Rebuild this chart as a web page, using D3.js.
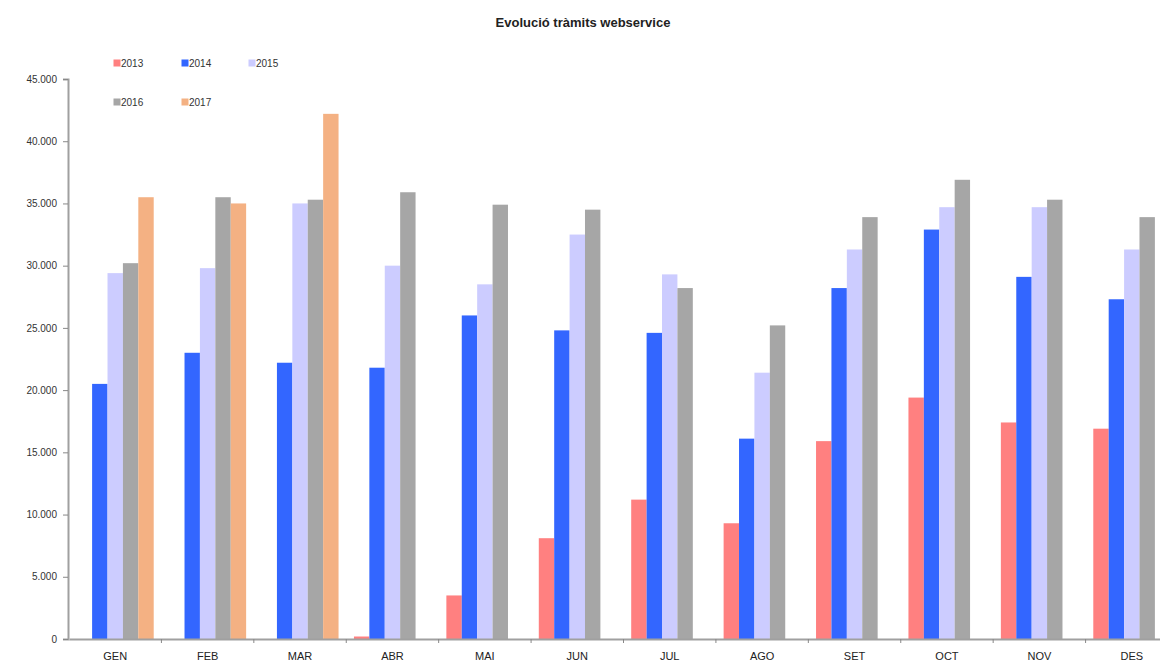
<!DOCTYPE html>
<html>
<head>
<meta charset="utf-8">
<script src="https://cdn.jsdelivr.net/npm/d3@7"></script>
<style>
  html, body { margin: 0; padding: 0; background: #fff; }
  svg { display: block; font-family: "Liberation Sans", Arial, sans-serif; }
</style>
</head>
<body>
<svg id="chart" width="1160" height="665"></svg>
<script>
const months = ["GEN","FEB","MAR","ABR","MAI","JUN","JUL","AGO","SET","OCT","NOV","DES"];
const years = ["2013","2014","2015","2016","2017"];
const colors = ["#FF8080","#3366FF","#CCCCFF","#A6A6A6","#F4B183"];
const v2013 = [0, 0, 0, 200, 3500, 8100, 11200, 9300, 15900, 19400, 17400, 16900];
const v2014 = [20500, 23000, 22200, 21800, 26000, 24800, 24600, 16100, 28200, 32900, 29100, 27300];
const v2015 = [29400, 29800, 35000, 30000, 28500, 32500, 29300, 21400, 31300, 34700, 34700, 31300];
const v2016 = [30200, 35500, 35300, 35900, 34900, 34500, 28200, 25200, 33900, 36900, 35300, 33900];
const v2017 = [35500, 35000, 42200, null, null, null, null, null, null, null, null, null];
const yTicks = [0, 5000, 10000, 15000, 20000, 25000, 30000, 35000, 40000, 45000];
const title = "Evolució tràmits webservice";

const series = [v2013, v2014, v2015, v2016, v2017];

const svg = d3.select("#chart");
const mLeft = 69, mRight = 1178, mTop = 79, mBottom = 639;

const x = d3.scaleBand().domain(months).range([mLeft, mRight]).paddingInner(0).paddingOuter(0);
const xi = d3.scaleBand().domain(years).range([0, x.bandwidth()]).paddingOuter(0.5).paddingInner(0);
const y = d3.scaleLinear().domain([0, 45000]).range([mBottom, mTop]);

const loc = d3.formatLocale({decimal: ",", thousands: ".", grouping: [3], currency: ["", "€"]});
const fmt = loc.format(",d");

// title
svg.append("text").attr("x", 583).attr("y", 27).attr("text-anchor", "middle")
  .attr("font-size", 13).attr("font-weight", "bold").attr("fill", "#222").text(title);

// bars
const groups = svg.append("g").selectAll("g").data(months).join("g")
  .attr("transform", d => `translate(${x(d)},0)`);
groups.selectAll("rect")
  .data((m, i) => years.map((yr, k) => ({yr, k, v: series[k][i]})).filter(d => d.v != null && d.v > 0))
  .join("rect")
  .attr("x", d => xi(d.yr))
  .attr("width", xi.bandwidth())
  .attr("y", d => y(d.v))
  .attr("height", d => mBottom - y(d.v))
  .attr("fill", d => colors[d.k]);

// y axis
const yAxis = svg.append("g").attr("transform", `translate(${mLeft - 1},0)`)
  .call(d3.axisLeft(y).tickValues(yTicks).tickFormat(fmt).tickSize(5).tickPadding(6));
yAxis.select(".domain").attr("stroke", "#A0A0A0").attr("stroke-width", 2);
yAxis.selectAll(".tick line").attr("stroke", "#888");
yAxis.selectAll(".tick text").attr("font-size", 10).attr("fill", "#333")
  .attr("font-family", "'Liberation Sans', Arial, sans-serif");

// x axis
const xAxis = svg.append("g").attr("transform", `translate(0,${mBottom})`)
  .call(d3.axisBottom(x).tickSize(0).tickPadding(13));
xAxis.select(".domain").attr("stroke", "#A0A0A0").attr("stroke-width", 2);
xAxis.selectAll(".tick text").attr("font-size", 11).attr("fill", "#222")
  .attr("font-family", "'Liberation Sans', Arial, sans-serif");
// boundary ticks
xAxis.selectAll(".bt").data(months.slice(1)).join("line").attr("class", "bt")
  .attr("x1", d => x(d)).attr("x2", d => x(d)).attr("y1", 0).attr("y2", 4)
  .attr("stroke", "#888");

// legend
const legPos = [[115, 63], [183, 63], [250, 63], [115, 102], [183, 102]];
const leg = svg.append("g").selectAll("g").data(years).join("g")
  .attr("transform", (d, i) => `translate(${legPos[i][0]},${legPos[i][1]})`);
leg.append("rect").attr("x", -1.5).attr("y", -3.5).attr("width", 7).attr("height", 7)
  .attr("fill", (d, i) => colors[i]);
leg.append("text").attr("x", 6).attr("y", 3.5).attr("font-size", 10).attr("fill", "#333").text(d => d);
</script>
</body>
</html>
